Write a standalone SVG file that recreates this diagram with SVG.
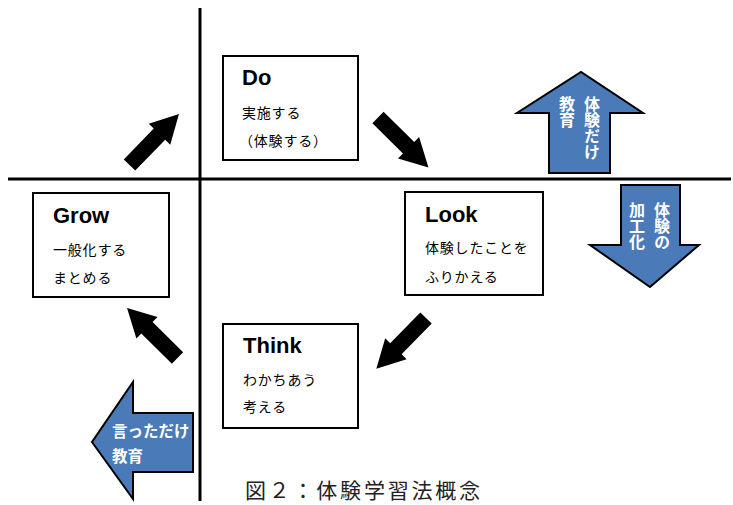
<svg xmlns="http://www.w3.org/2000/svg" xmlns:xlink="http://www.w3.org/1999/xlink" width="733" height="505" viewBox="0 0 733 505">
<style>
.box{fill:#fff;stroke:#000;stroke-width:2}
.ttl{font-family:"Liberation Sans","Noto Sans CJK JP",sans-serif;font-weight:bold;font-size:22px;fill:#000}
.jp{font-family:"Noto Sans CJK JP","Liberation Sans",sans-serif;font-size:14px;fill:#000;letter-spacing:0.8px}
.blue{fill:#4a7ab8;stroke:#000;stroke-width:2;stroke-linejoin:miter}
.wt{font-family:"Noto Sans CJK JP",sans-serif;font-weight:bold;font-size:15.5px;fill:#fff}
.vt{font-family:"Noto Sans CJK JP",sans-serif;font-weight:bold;font-size:16px;fill:#fff;writing-mode:vertical-rl}
.axis{stroke:#000;stroke-width:3}
.cap{font-family:"Noto Sans CJK JP",sans-serif;font-size:21px;fill:#222}
</style>
<defs>
<path id="blk" d="M0,-8 L43,-8 L43,-15 L71,0 L43,15 L43,8 L0,8 Z" fill="#000"/>
</defs>
<rect width="733" height="505" fill="#fff"/>
<g id="axes">
<line class="axis" x1="8" y1="179" x2="731" y2="179"/>
<line class="axis" x1="200" y1="8" x2="200" y2="501"/>
</g>
<g id="do">
<rect class="box" x="223" y="56" width="135" height="104"/>
<text class="ttl" x="242" y="85">Do</text>
<text class="jp" x="242" y="118">実施する</text>
<text class="jp" x="239" y="146">（体験する）</text>
</g>
<g id="look">
<rect class="box" x="405" y="192" width="138" height="103"/>
<text class="ttl" x="425" y="222">Look</text>
<text class="jp" x="425" y="253">体験したことを</text>
<text class="jp" x="425" y="282">ふりかえる</text>
</g>
<g id="grow">
<rect class="box" x="33" y="193" width="136" height="104"/>
<text class="ttl" x="53" y="223">Grow</text>
<text class="jp" x="53" y="255">一般化する</text>
<text class="jp" x="53" y="283">まとめる</text>
</g>
<g id="think">
<rect class="box" x="223" y="324" width="135" height="104"/>
<text class="ttl" x="243" y="353">Think</text>
<text class="jp" x="243" y="385">わかちあう</text>
<text class="jp" x="243" y="412">考える</text>
</g>
<g id="connectors">
<use xlink:href="#blk" transform="translate(129.5,165) rotate(-45.8)"/>
<use xlink:href="#blk" transform="translate(378,117.5) rotate(44.7)"/>
<use xlink:href="#blk" transform="translate(426,318) rotate(134.4)"/>
<use xlink:href="#blk" transform="translate(177.5,358) rotate(-135.3)"/>
</g>
<g id="arrow-up">
<polygon class="blue" points="549,173 549,113 517,113 581,72 643,113 610,113 610,173"/>
<text class="vt" x="592" y="96">体験だけ</text>
<text class="vt" x="567" y="96">教育</text>
</g>
<g id="arrow-down">
<polygon class="blue" points="621,185 680,185 680,245 699,245 650,287 590,245 621,245"/>
<text class="vt" x="662" y="202">体験の</text>
<text class="vt" x="637" y="202">加工化</text>
</g>
<g id="arrow-left">
<polygon class="blue" points="193,413 133,413 133,382 92,442 133,499 133,472 193,472"/>
<text class="wt" x="112" y="437">言っただけ</text>
<text class="wt" x="112" y="462">教育</text>
</g>
<g id="caption">
<text class="cap" x="245" y="498" textLength="235" lengthAdjust="spacing">図２：体験学習法概念</text>
</g>
</svg>
